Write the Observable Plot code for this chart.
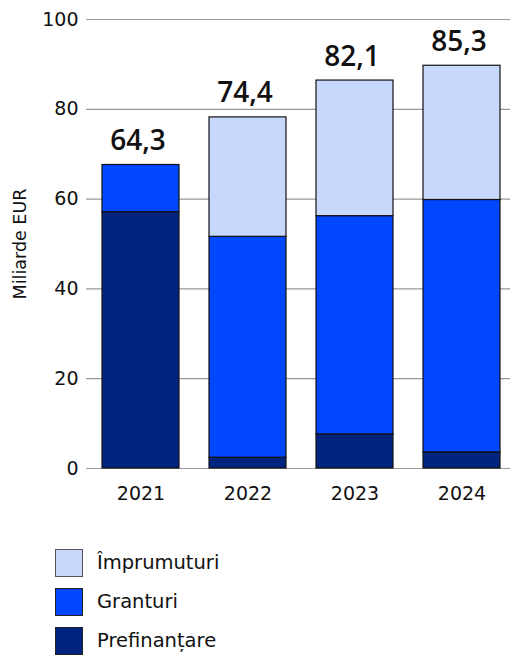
<!DOCTYPE html>
<html>
<head>
<meta charset="utf-8">
<script src="https://cdn.jsdelivr.net/npm/d3@7"></script>
<script src="https://cdn.jsdelivr.net/npm/@observablehq/plot@0.6"></script>
<style>
  html, body { margin: 0; padding: 0; background: #fff; }
  body { width: 510px; height: 655px; overflow: hidden; font-family: "DejaVu Sans", sans-serif; }
  #legend { margin-left: 55px; margin-top: 33px; }
  .item { display: flex; align-items: center; height: 39px; font-size: 19.5px; color: #111; }
  .sw { width: 28px; height: 28px; box-sizing: border-box; border: 1.5px solid #222; margin-right: 14px; }
</style>
</head>
<body>
<div id="chart"></div>
<div id="legend"></div>
<script>
const years = ["2021", "2022", "2023", "2024"];
const series = ["Prefinanțare", "Granturi", "Împrumuturi"];
const prefinantare = [57.1, 2.4, 7.6, 3.6];
const granturi = [10.5, 49.2, 48.6, 56.2];
const imprumuturi = [0, 26.6, 30.2, 29.9];
const totalLabels = ["64,3", "74,4", "82,1", "85,3"];
const colors = ["#00237f", "#0047ff", "#c8d8fd"];
const legendOrder = ["Împrumuturi", "Granturi", "Prefinanțare"];

const values = [prefinantare, granturi, imprumuturi];
const rows = [];
series.forEach((s, si) => years.forEach((y, yi) => rows.push({year: y, series: s, value: values[si][yi]})));
const totals = years.map((y, i) => ({year: y, total: prefinantare[i] + granturi[i] + imprumuturi[i], label: totalLabels[i]}));

const chart = Plot.plot({
  width: 510,
  height: 510,
  marginLeft: 86,
  marginRight: 0,
  marginTop: 19,
  marginBottom: 42,
  style: {fontFamily: "DejaVu Sans, sans-serif", fontSize: "19px", color: "#111"},
  x: {domain: years, paddingInner: 0.278, paddingOuter: 0.102, align: 0.636, label: null},
  y: {domain: [0, 100], ticks: [0, 20, 40, 60, 80, 100]},
  color: {domain: series, range: colors},
  marks: [
    Plot.gridY([0, 20, 40, 60, 80, 100], {stroke: "#999", strokeOpacity: 1, strokeWidth: 1.2}),
    Plot.axisY({ticks: [0, 20, 40, 60, 80, 100], tickSize: 0, tickPadding: 8, fontSize: 19, label: null}),
    Plot.axisY({ticks: [], tickSize: 0, fontSize: 17.5,
      label: "Miliarde EUR", labelAnchor: "center", labelArrow: "none", labelOffset: 73}),
    Plot.axisX({tickSize: 0, tickPadding: 18, fontSize: 19, label: null}),
    Plot.barY(rows, Plot.stackY({x: "year", y: "value", fill: "series", order: series, stroke: "#111", strokeWidth: 1.2})),
    Plot.text(totals, {x: "year", y: "total", text: "label", dy: -24, dx: -3, fontSize: 28, fontWeight: 600,
      fontFamily: "Open Sans, sans-serif", fill: "#111"})
  ]
});
document.getElementById("chart").appendChild(chart);

const legend = document.getElementById("legend");
legendOrder.forEach(name => {
  const i = series.indexOf(name);
  const item = document.createElement("div");
  item.className = "item";
  const sw = document.createElement("div");
  sw.className = "sw";
  sw.style.background = colors[i];
  if (name === "Împrumuturi") sw.style.borderColor = "#555";
  const label = document.createElement("span");
  label.textContent = name;
  item.appendChild(sw);
  item.appendChild(label);
  legend.appendChild(item);
});
</script>
</body>
</html>
